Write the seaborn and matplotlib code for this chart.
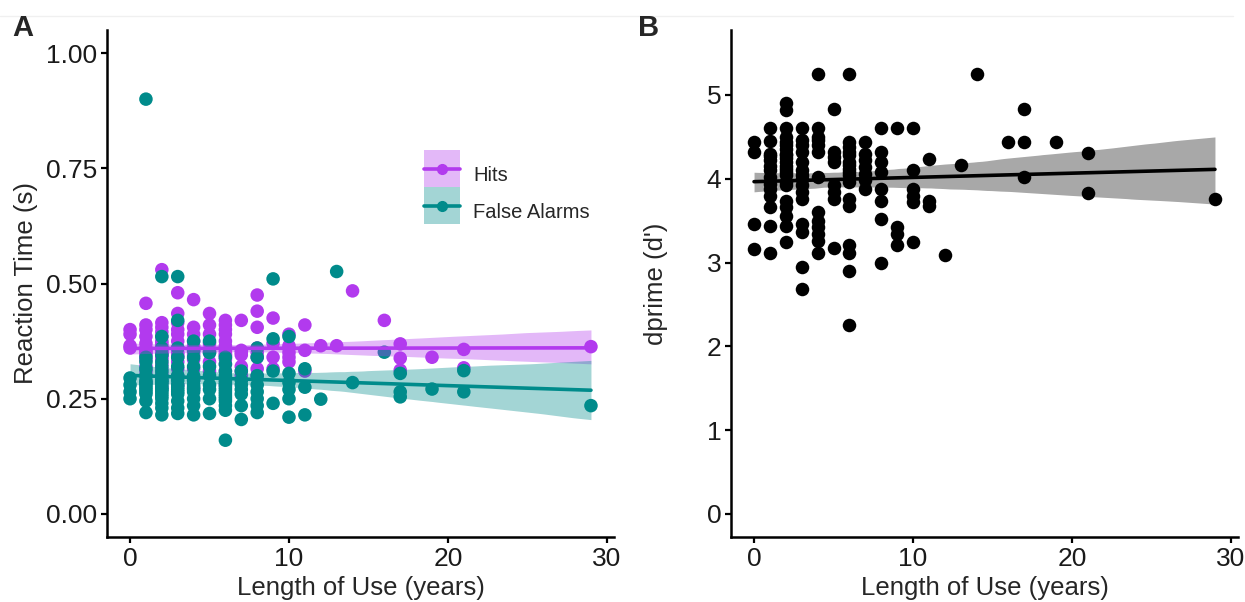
import numpy as np
import pandas as pd
import matplotlib
matplotlib.use("Agg")
import matplotlib.pyplot as plt
import seaborn as sns
from matplotlib.patches import Patch, Rectangle
from matplotlib.lines import Line2D
from matplotlib.legend_handler import HandlerTuple, HandlerPatch

sns.set_theme(style="white")
plt.rcParams["font.family"] = ["Liberation Sans", "DejaVu Sans"]

# Years of use for each participant
years = (
    [0] * 4 + [1] * 14 + [2] * 22 + [3] * 15 + [4] * 13 + [5] * 8 + [6] * 17
    + [7] * 7 + [8] * 8 + [9] * 4 + [10] * 6 + [11] * 3 + [12, 13, 14, 16]
    + [17] * 3 + [19] + [21] * 2 + [29]
)

# Mean reaction time (s) on hit trials
hits_rt = [
    0.40, 0.39, 0.365, 0.36,
    0.457, 0.41, 0.40, 0.385, 0.37, 0.36, 0.355, 0.35, 0.345, 0.335, 0.32, 0.31, 0.30, 0.285,
    0.53, 0.415, 0.405, 0.395, 0.385, 0.375, 0.37, 0.365, 0.36, 0.355, 0.35,
    0.35, 0.345, 0.345, 0.34, 0.335, 0.325, 0.315, 0.305, 0.295, 0.285, 0.275,
    0.48, 0.435, 0.415, 0.40, 0.39, 0.375, 0.36, 0.36, 0.35, 0.345, 0.34, 0.33, 0.315, 0.30, 0.28,
    0.465, 0.405, 0.39, 0.375, 0.365, 0.36, 0.355, 0.35, 0.345, 0.335, 0.315, 0.29, 0.272,
    0.435, 0.41, 0.39, 0.37, 0.355, 0.35, 0.33, 0.31,
    0.42, 0.41, 0.40, 0.39, 0.375, 0.365, 0.36, 0.355, 0.35,
    0.345, 0.345, 0.34, 0.335, 0.325, 0.31, 0.295, 0.28,
    0.42, 0.355, 0.35, 0.345, 0.32, 0.31, 0.30,
    0.475, 0.44, 0.405, 0.36, 0.35, 0.34, 0.315, 0.30,
    0.425, 0.37, 0.34, 0.315,
    0.39, 0.365, 0.36, 0.35, 0.34, 0.33,
    0.41, 0.355, 0.31,
    0.365, 0.365, 0.484, 0.42,
    0.369, 0.338, 0.312,
    0.340,
    0.357, 0.317,
    0.363,
]

# Mean reaction time (s) on false-alarm trials
fa_rt = [
    0.295, 0.28, 0.265, 0.25,
    0.90, 0.34, 0.33, 0.315, 0.30, 0.29, 0.285, 0.28, 0.275, 0.27, 0.265, 0.26, 0.245, 0.22,
    0.515, 0.385, 0.36, 0.345, 0.33, 0.32, 0.31, 0.30, 0.29, 0.29, 0.285,
    0.28, 0.275, 0.27, 0.27, 0.265, 0.26, 0.255, 0.25, 0.24, 0.23, 0.215,
    0.515, 0.42, 0.36, 0.34, 0.32, 0.30, 0.29, 0.28, 0.275, 0.27, 0.265, 0.26, 0.245, 0.23, 0.218,
    0.375, 0.355, 0.34, 0.32, 0.30, 0.29, 0.28, 0.275, 0.27, 0.265, 0.25, 0.235, 0.215,
    0.375, 0.35, 0.32, 0.30, 0.28, 0.27, 0.25, 0.218,
    0.34, 0.325, 0.31, 0.30, 0.29, 0.285, 0.28, 0.275, 0.27,
    0.265, 0.26, 0.255, 0.25, 0.245, 0.235, 0.225, 0.16,
    0.31, 0.29, 0.28, 0.27, 0.26, 0.235, 0.205,
    0.36, 0.34, 0.30, 0.28, 0.265, 0.25, 0.235, 0.22,
    0.51, 0.38, 0.31, 0.24,
    0.385, 0.305, 0.285, 0.27, 0.25, 0.21,
    0.315, 0.275, 0.215,
    0.249, 0.526, 0.285, 0.351,
    0.305, 0.265, 0.254,
    0.271,
    0.311, 0.265,
    0.235,
]

# Sensitivity (d') for each participant
dprime = [
    4.44, 4.32, 3.46, 3.16,
    4.60, 4.45, 4.30, 4.27, 4.22, 4.15, 4.10, 4.02, 3.94, 3.88, 3.80, 3.66, 3.44, 3.11,
    4.90, 4.82, 4.60, 4.50, 4.44, 4.40, 4.36, 4.30, 4.28, 4.25, 4.20,
    4.15, 4.12, 4.08, 4.04, 3.96, 3.92, 3.74, 3.66, 3.56, 3.44, 3.24,
    4.60, 4.46, 4.40, 4.32, 4.20, 4.10, 4.05, 4.00, 3.92, 3.84, 3.76, 3.46, 3.36, 2.95, 2.69,
    5.25, 4.60, 4.50, 4.46, 4.40, 4.32, 4.02, 3.60, 3.50, 3.42, 3.34, 3.26, 3.11,
    4.83, 4.32, 4.26, 4.20, 3.92, 3.84, 3.76, 3.17,
    5.25, 4.44, 4.38, 4.32, 4.28, 4.20, 4.16, 4.12, 4.08,
    4.04, 3.96, 3.76, 3.68, 3.21, 3.11, 2.90, 2.26,
    4.44, 4.30, 4.22, 4.14, 4.06, 3.98, 3.88,
    4.60, 4.32, 4.20, 4.08, 3.88, 3.74, 3.52, 3.00,
    4.60, 3.42, 3.34, 3.21,
    4.60, 4.10, 3.88, 3.80, 3.72, 3.25,
    4.23, 3.74, 3.68,
    3.09, 4.17, 5.25, 4.44,
    4.83, 4.44, 4.02,
    4.44,
    4.31, 3.83,
    3.76,
]

trial_types = ["Hits", "False Alarms"]
HIT_COLOR = "#B23AEE"
FA_COLOR = "#008B8B"
palette = {"Hits": HIT_COLOR, "False Alarms": FA_COLOR}
BAND_ALPHA = 0.36

n = len(years)
rt_df = pd.DataFrame({
    "years": years * 2,
    "rt": hits_rt + fa_rt,
    "type": [trial_types[0]] * n + [trial_types[1]] * n,
})
dp_df = pd.DataFrame({"years": years, "dprime": dprime})

W, H = 1245, 602
fig = plt.figure(figsize=(W / 100, H / 100), dpi=100)
axA = fig.add_axes([107 / W, 65 / H, 507 / W, 507 / H])
axB = fig.add_axes([731 / W, 65 / H, 507 / W, 507 / H])

# ---- Panel A: reaction times ----
sns.scatterplot(data=rt_df, x="years", y="rt", hue="type", palette=palette,
                s=95, linewidth=0, alpha=1, ax=axA, legend=False, zorder=1)
for t in trial_types:
    sub = rt_df[rt_df["type"] == t]
    n_before = len(axA.collections)
    sns.regplot(data=sub, x="years", y="rt", scatter=False, color=palette[t],
                ax=axA, seed=7, line_kws={"lw": 2.6})
    for coll in axA.collections[n_before:]:
        coll.set_alpha(BAND_ALPHA)
        coll.set_linewidth(0)

axA.set_xlim(-1.45, 30.45)
axA.set_ylim(-0.05, 1.05)
axA.set_yticks([0, 0.25, 0.5, 0.75, 1.0])
axA.set_yticklabels(["0.00", "0.25", "0.50", "0.75", "1.00"])
axA.set_ylabel("Reaction Time (s)", fontsize=18.5, labelpad=6)


def centered_key(legend, orig_handle, xdescent, ydescent, width, height, fontsize):
    # Key background box, centred on the key's line
    yc = (height - ydescent) / 2
    return Rectangle((-xdescent, yc - height / 2), width, height)


handles = [
    (Patch(facecolor=palette[t], alpha=BAND_ALPHA, linewidth=0),
     Line2D([], [], color=palette[t], lw=2.6, marker="o", markersize=7))
    for t in trial_types
]
axA.legend(handles, trial_types,
           handler_map={tuple: HandlerTuple(ndivide=1, pad=0),
                        Patch: HandlerPatch(patch_func=centered_key)},
           loc="upper left", bbox_to_anchor=(0.625, 0.751), frameon=False,
           fontsize=14.5, handlelength=1.8, handleheight=2.45, labelspacing=0.0,
           handletextpad=0.65, borderpad=0, borderaxespad=0, numpoints=1)

# ---- Panel B: sensitivity ----
sns.scatterplot(data=dp_df, x="years", y="dprime", color="black", s=95,
                linewidth=0, ax=axB, zorder=1)
n_before = len(axB.collections)
sns.regplot(data=dp_df, x="years", y="dprime", scatter=False, color="black",
            ax=axB, seed=7, line_kws={"lw": 2.6})
for coll in axB.collections[n_before:]:
    coll.set_alpha(0.34)
    coll.set_linewidth(0)

axB.set_xlim(-1.45, 30.45)
axB.set_ylim(-0.275, 5.775)
axB.set_yticks([0, 1, 2, 3, 4, 5])
axB.set_ylabel("dprime (d')", fontsize=18.5, labelpad=28)

for ax in (axA, axB):
    ax.set_xticks([0, 10, 20, 30])
    ax.set_xlabel("Length of Use (years)", fontsize=18.5, labelpad=4)
    for side in ("top", "right"):
        ax.spines[side].set_visible(False)
    for side in ("left", "bottom"):
        ax.spines[side].set_color("black")
        ax.spines[side].set_linewidth(1.8)
    ax.tick_params(axis="both", which="major", direction="out", length=4.5,
                   width=1.6, color="black", labelsize=19, labelcolor="#1a1a1a",
                   pad=2.5, left=True, bottom=True)
    ax.grid(False)

fig.text(12 / W, 1 - 36 / H, "A", fontsize=21, fontweight="bold", va="baseline")
fig.text(638 / W, 1 - 36 / H, "B", fontsize=21, fontweight="bold", va="baseline")
fig.add_artist(Line2D([0, 0.99], [1 - 16 / H, 1 - 16 / H], transform=fig.transFigure,
                      color="#f0f0f0", lw=1))

fig.savefig("out.png", dpi=100)
